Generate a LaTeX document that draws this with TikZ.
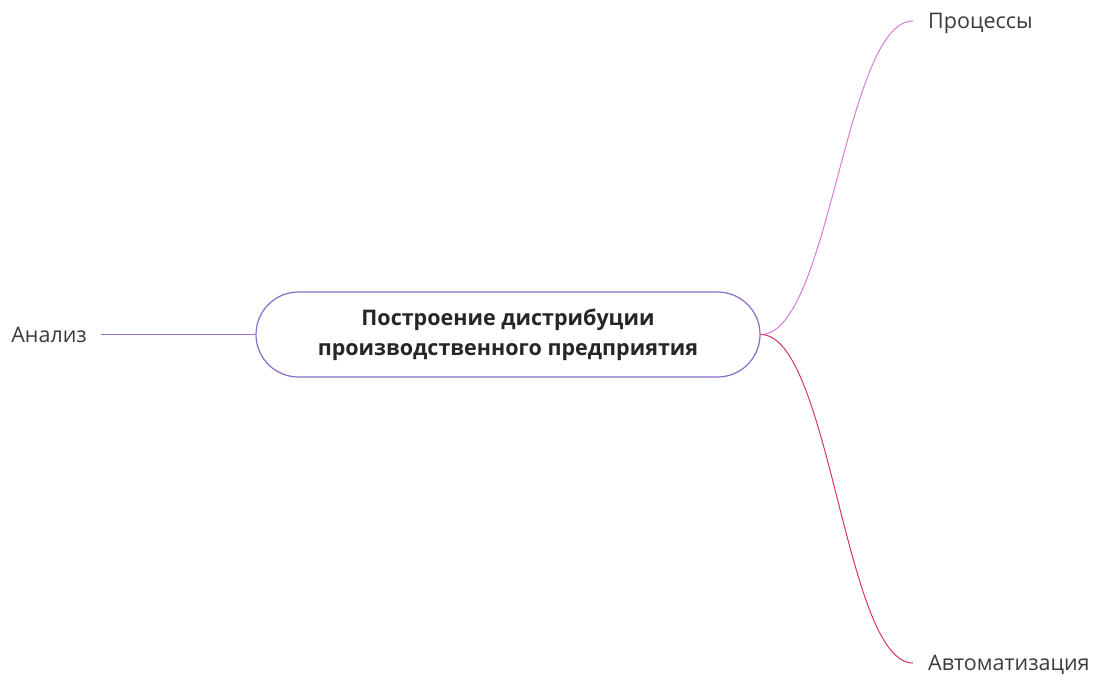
\documentclass[tikz,border=0pt]{standalone}
\usepackage{fontspec}
\setmainfont{Open Sans}
\usetikzlibrary{positioning}
\definecolor{rootline}{RGB}{138,108,200}
\definecolor{analysisline}{RGB}{150,112,200}
\definecolor{processline}{RGB}{222,122,214}
\definecolor{autoline}{RGB}{212,52,104}
\definecolor{labeltext}{RGB}{60,60,60}
\begin{document}
\begin{tikzpicture}[x=1pt,y=-1pt]
      \tikzstyle{topic}=[draw=rootline,line width=1.2pt,rounded corners=42.5pt,minimum width=504pt,minimum height=85pt,align=center,text=black!85,font=\fontsize{21.5}{30}\selectfont\bfseries]
      \tikzstyle{leaf}=[inner ysep=0pt,text height=15pt,text depth=0pt,text=labeltext,font=\fontsize{21.5}{25}\selectfont]
      \tikzstyle{branch}=[line width=1pt]
      \useasboundingbox (0,0) rectangle (1099,682);
      \node[topic] (root) at (508,334.5) {Построение дистрибуции\\производственного предприятия};
      \node[leaf,anchor=east,inner xsep=14pt] (analysis) at (101,334.5) {Анализ};
      \node[leaf,anchor=west,inner xsep=15pt] (processes) at (913,21) {Процессы};
      \node[leaf,anchor=west,inner xsep=15pt] (automation) at (913,663) {Автоматизация};
      \draw[branch,analysisline] (analysis.east) -- (root.west);
      \draw[branch,processline] (root.east) .. controls (830,334.5) and (845,21) .. (processes.west);
      \draw[branch,autoline] (root.east) .. controls (830,334.5) and (845,663) .. (automation.west);
\end{tikzpicture}
\end{document}
